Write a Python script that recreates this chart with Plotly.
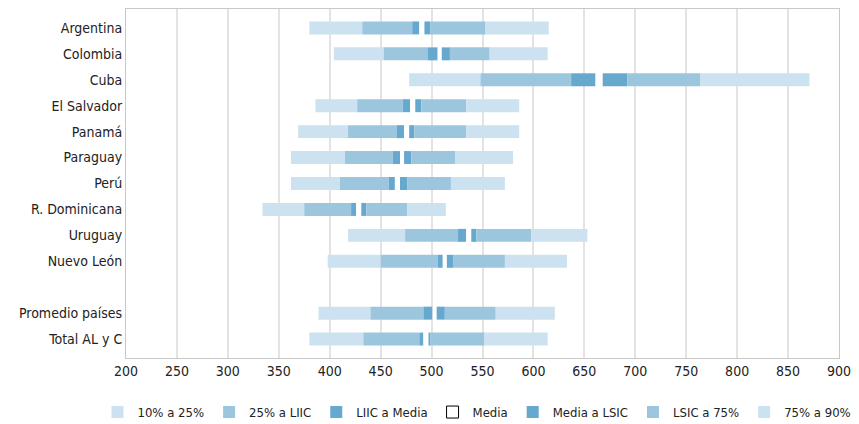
import plotly.graph_objects as go

categories = ["Argentina", "Colombia", "Cuba", "El Salvador", "Panamá", "Paraguay",
              "Perú", "R. Dominicana", "Uruguay", "Nuevo León", "",
              "Promedio países", "Total AL y C"]

# boundaries (None for the blank spacer row)
p10      = [380, 404, 478, 386, 369, 362, 362, 334, 418, 398, None, 389, 380]
p25      = [432, 453, 548, 427, 418, 415, 410, 375, 474, 450, None, 440, 433]
liic     = [481, 496, 637, 472, 466, 462, 458, 421, 526, 506, None, 492, 488]
media_lo = [488, 506, 661, 479, 473, 469, 464, 426, 534, 511, None, 501, 492]
media_hi = [493, 510, 668, 484, 478, 473, 469, 431, 539, 515, None, 505, 497]
lsic     = [499, 518, 692, 490, 483, 480, 476, 436, 544, 521, None, 513, 499]
p75      = [553, 557, 764, 534, 534, 523, 519, 476, 598, 572, None, 563, 552]
p90      = [615, 614, 871, 586, 586, 580, 572, 514, 653, 633, None, 621, 614]

ticks_x = list(range(200, 901, 50))

C_LIGHT = "#cde2f0"
C_MID = "#9cc6de"
C_DARK = "#66a8ce"

segments = [
    ("10% a 25%", p10, p25, C_LIGHT),
    ("25% a LIIC", p25, liic, C_MID),
    ("LIIC a Media", liic, media_lo, C_DARK),
    ("Media", media_lo, media_hi, "#ffffff"),
    ("Media a LSIC", media_hi, lsic, C_DARK),
    ("LSIC a 75%", lsic, p75, C_MID),
    ("75% a 90%", p75, p90, C_LIGHT),
]

ypos = list(range(len(categories)))
fig = go.Figure()
for name, lo, hi, col in segments:
    ys, bases, widths = [], [], []
    for i, (a, b) in enumerate(zip(lo, hi)):
        if a is None:
            continue
        ys.append(ypos[i]); bases.append(a); widths.append(b - a)
    if name == "Media":
        fig.add_trace(go.Bar(y=ys, x=widths, base=bases, orientation="h", width=0.5,
                             marker=dict(color=col, line=dict(width=0)),
                             showlegend=False, hoverinfo="skip"))
        # legend entry (outlined white box), drawn outside visible x range
        fig.add_trace(go.Bar(y=[0], x=[1], base=[0], orientation="h", width=0.5, name=name,
                             marker=dict(color="#ffffff", line=dict(color="#000000", width=1)),
                             hoverinfo="skip"))
    else:
        fig.add_trace(go.Bar(y=ys, x=widths, base=bases, orientation="h", width=0.5, name=name,
                             marker=dict(color=col, line=dict(width=0))))

font = "DejaVu Sans Condensed, sans-serif"
fig.update_layout(
    width=851, height=416,
    margin=dict(l=118, r=20, t=1, b=66, autoexpand=False),
    barmode="overlay",
    plot_bgcolor="#ffffff", paper_bgcolor="#ffffff",
    font=dict(family=font, size=14, color="#222222"),
    xaxis=dict(range=[200, 900], tickvals=ticks_x, showgrid=True, gridcolor="#e3e3e3",
               gridwidth=2, showline=True, linecolor="#c8c8c8", linewidth=1, mirror=True,
               zeroline=False, ticks="", tickfont=dict(size=14), automargin=False),
    yaxis=dict(range=[12.73, -0.73], tickvals=ypos, ticktext=categories, showgrid=False,
               showline=True, linecolor="#c8c8c8", linewidth=1, mirror=True, zeroline=False,
               ticks="", tickfont=dict(size=14), automargin=False),
    legend=dict(orientation="h", x=-0.04, xanchor="left", y=-0.112, yanchor="top",
                font=dict(size=13), traceorder="normal", itemclick=False),
    showlegend=True,
)
fig.write_html("out.html")
